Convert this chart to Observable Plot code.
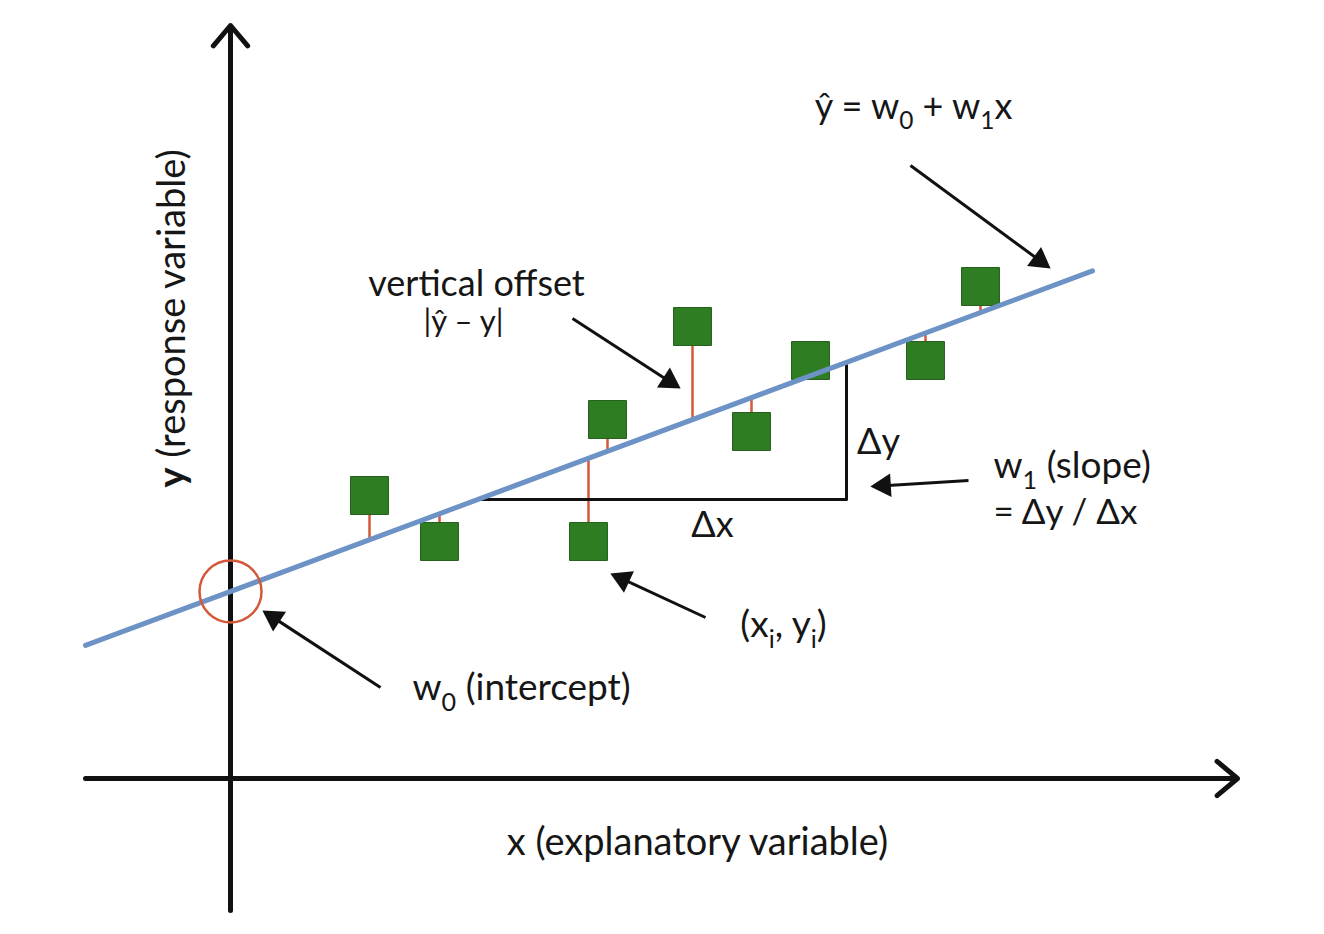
<!DOCTYPE html>
<html><head><meta charset="utf-8">
<script src="https://cdn.jsdelivr.net/npm/d3@7"></script>
<script src="https://cdn.jsdelivr.net/npm/@observablehq/plot@0.6"></script>
<style>html,body{margin:0;padding:0;background:#fff}</style>
</head><body><div id="chart"></div>
<script>
// observations (x_i, y_i)
const pointX = [13.9, 20.9, 35.8, 37.7, 46.2, 52.1, 58.0, 69.5, 75.0];
const pointY = [28.3, 23.7, 23.7, 35.9, 45.2, 34.7, 41.8, 41.8, 49.2];
// fitted line ŷ = w0 + w1 x
const w0 = 18.7, w1 = 0.372;
const fitRange = [-14.5, 86.2];
// slope triangle (Δx span)
const deltaSpan = [24.7, 61.6];
// axes extents
const axisXRange = [-14.5, 100.7];
const axisYRange = [-13.2, 75.3];

// annotation labels
const labelText = ["ŷ = w_0 + w_1x", "vertical offset", "|ŷ – y|", "Δx", "Δy",
  "w_1 (slope)", "= Δy / Δx", "(x_i, y_i)", "w_0 (intercept)",
  "x (explanatory variable)", "*y* (response variable)"];
const labelX = [68.3, 24.6, 23.3, 48.2, 64.8, 76.3, 76.3, 55.3, 18.2, 46.7, -5.8];
const labelY = [67.1, 49.4, 45.6, 25.3, 33.6, 31.2, 26.6, 15.3, 9.0, -6.4, 46.0];
const labelSize = [36, 36, 31, 36, 36, 37, 35, 37, 37, 38, 38];
const labelAnchor = ["middle", "middle", "middle", "middle", "middle", "start", "start", "middle", "start", "middle", "middle"];
const labelRotate = [0, 0, 0, 0, 0, 0, 0, 0, 0, 0, -90];

// annotation arrows (from -> to)
const arrowFromX = [68.0, 34.2, 73.8, 47.5, 15.0];
const arrowFromY = [61.3, 46.0, 29.8, 16.1, 9.1];
const arrowToX = [82.0, 45.0, 64.0, 38.0, 3.2];
const arrowToY = [51.0, 39.0, 29.2, 20.5, 16.8];

const yhat = x => w0 + w1 * x;
const points = pointX.map((x, i) => ({x, y: pointY[i], fit: yhat(x)}));
const fitLine = fitRange.map(x => ({x, y: yhat(x)}));
const triangle = [
  {x: deltaSpan[0], y: yhat(deltaSpan[0])},
  {x: deltaSpan[1], y: yhat(deltaSpan[0])},
  {x: deltaSpan[1], y: yhat(deltaSpan[1])}
];
const axes = [
  {x1: axisXRange[0], y1: 0, x2: axisXRange[1], y2: 0},
  {x1: 0, y1: axisYRange[0], x2: 0, y2: axisYRange[1]}
];
const headBack = 1.35;
const arrows = arrowFromX.map((x1, i) => {
  const x2 = arrowToX[i], y1 = arrowFromY[i], y2 = arrowToY[i];
  const dx = x2 - x1, dy = y2 - y1, len = Math.hypot(dx, dy);
  return {x1, y1, x2, y2,
    hx: x2 - dx / len * headBack, hy: y2 - dy / len * headBack,
    angle: Math.atan2(dx, dy) * 180 / Math.PI};
});
const labels = labelText.map((t, i) => ({t, x: labelX[i], y: labelY[i], s: labelSize[i], a: labelAnchor[i], r: labelRotate[i]}));
const textOpts = {x: "x", y: "y", text: "t", fontSize: "s", rotate: "r", fill: "#161616"};

const plot = Plot.plot({
  width: 1324, height: 934, margin: 0,
  x: {domain: [-23, 109.4], axis: null},
  y: {domain: [-15.6, 77.8], axis: null},
  style: {fontFamily: "Lato, 'Open Sans', sans-serif", background: "white", color: "#161616"},
  marks: [
    Plot.arrow(axes, {x1: "x1", y1: "y1", x2: "x2", y2: "y2", stroke: "#111", strokeWidth: 5, headLength: 8, headAngle: 80}),
    Plot.link(points, {x1: "x", y1: "y", x2: "x", y2: "fit", stroke: "#d4583a", strokeWidth: 2.5}),
    Plot.line(triangle, {x: "x", y: "y", stroke: "#111", strokeWidth: 3}),
    Plot.dot(points, {x: "x", y: "y", symbol: "square", r: 21.4, fill: "#2e7d23", stroke: "#235f1a", strokeWidth: 1}),
    Plot.line(fitLine, {x: "x", y: "y", stroke: "#6d93c6", strokeWidth: 5}),
    Plot.dot([{x: 0, y: w0}], {x: "x", y: "y", r: 31, stroke: "#d4583a", strokeWidth: 2.5, fill: "none"}),
    Plot.link(arrows, {x1: "x1", y1: "y1", x2: "hx", y2: "hy", stroke: "#111", strokeWidth: 3}),
    Plot.dot(arrows, {x: "hx", y: "hy", symbol: "triangle", r: 8.8, fill: "#111", rotate: "angle"}),
    Plot.text(labels.filter(d => d.a === "middle"), {...textOpts, textAnchor: "middle"}),
    Plot.text(labels.filter(d => d.a === "start"), {...textOpts, textAnchor: "start"})
  ]
});
document.getElementById("chart").appendChild(plot);

// subscripts and bold via tspans
plot.querySelectorAll("text").forEach(el => {
  const txt = el.textContent;
  if (!/[_*]/.test(txt)) return;
  const fs = parseFloat(getComputedStyle(el).fontSize) || 30;
  const shift = fs * 0.28;
  el.textContent = "";
  const ns = "http://www.w3.org/2000/svg";
  const re = /_(\w)|\*(\w+)\*/g;
  let last = 0, m;
  let pendingUp = false;
  const add = (s, attrs) => {
    const t = document.createElementNS(ns, "tspan");
    t.textContent = s;
    for (const k in attrs) t.setAttribute(k, attrs[k]);
    el.appendChild(t);
  };
  while ((m = re.exec(txt))) {
    if (m.index > last) { add(txt.slice(last, m.index), pendingUp ? {dy: -shift} : {}); pendingUp = false; }
    if (m[1]) { add(m[1], {dy: shift, "font-size": fs * 0.68}); pendingUp = true; }
    else { add(m[2], pendingUp ? {"font-weight": "bold", dy: -shift} : {"font-weight": "bold"}); pendingUp = false; }
    last = re.lastIndex;
  }
  if (last < txt.length) add(txt.slice(last), pendingUp ? {dy: -shift} : {});
});
</script>
</body></html>
